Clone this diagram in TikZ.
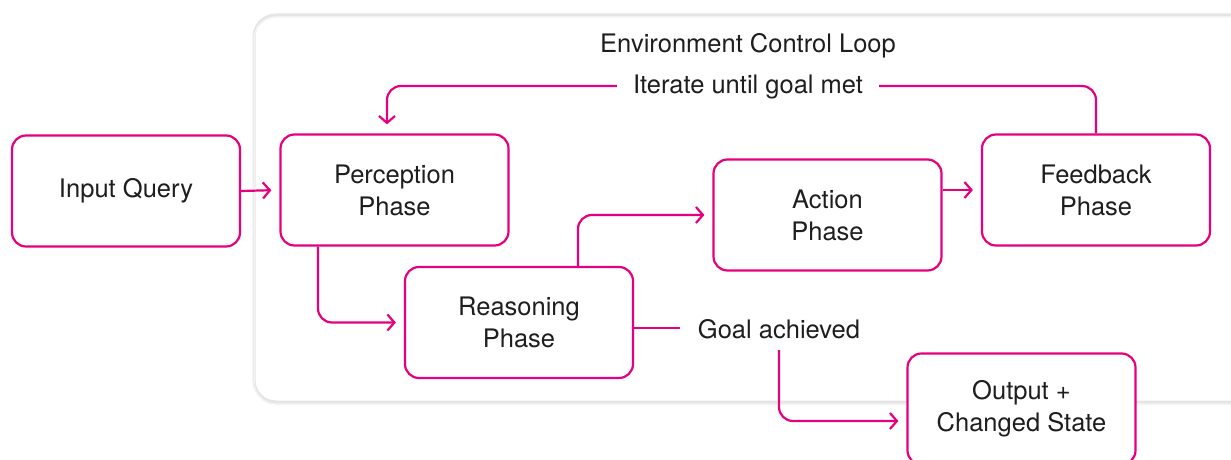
\documentclass[tikz,border=0pt]{standalone}
\usepackage{fontspec}
\setmainfont{TeX Gyre Heros}
\usetikzlibrary{arrows.meta}
\definecolor{mag}{RGB}{230,0,126}
\definecolor{txt}{RGB}{30,30,30}
\begin{document}
\begin{tikzpicture}[x=1pt,y=-1pt,
  box/.style={draw=mag,line width=2.2pt,rounded corners=14pt,fill=white,minimum width=228pt,minimum height=111pt,align=center,font=\fontsize{25.5}{32}\selectfont,text=txt,inner sep=0pt},
  lbl/.style={font=\fontsize{25.5}{32}\selectfont,text=txt,inner sep=0pt},
  conn/.style={draw=mag,line width=2.2pt,rounded corners=14pt},
  arr/.style={conn,-{Straight Barb[length=7pt,width=16pt,line width=2.2pt]},shorten >=8pt}]
\useasboundingbox (0,0) rectangle (1231,460);
% environment container
\draw[rounded corners=22pt,draw=black!10,line width=3pt,fill=white] (254,15) rectangle (1260,402);
\draw[rounded corners=22pt,draw=black!5,line width=1.5pt] (254,17) rectangle (1260,404);
\node[lbl] (title) at (748,46) {Environment Control Loop};
% nodes
\node[box] (inp) at (126,191) {Input Query};
\node[box] (per) at (394.5,190) {Perception\\Phase};
\node[box] (rea) at (519,322.5) {Reasoning\\Phase};
\node[box] (act) at (827.5,215) {Action\\Phase};
\node[box] (fee) at (1096,190) {Feedback\\Phase};
\node[box] (out) at (1021.5,409) {Output +\\Changed State};
\node[lbl] (iter) at (748,87) {Iterate until goal met};
\node[lbl] (goal) at (779,329) {Goal achieved};
% connectors
\draw[arr] (inp.east) -- (per.west);
\draw[arr] (per.south -| 318,0) |- (rea.west);
\draw[arr] (rea.north -| 578,0) |- (act.west);
\draw[arr] (act.east |- fee.west) -- (fee.west);
\draw[conn] (fee.north) |- ([xshift=16pt,yshift=1pt]iter.east);
\draw[arr,shorten >=9pt] ([xshift=-16pt,yshift=1pt]iter.west) -| (per.north -| 387,0);
\draw[conn] (rea.east |- 0,328) -- ([xshift=-18pt]goal.west |- 0,328);
\coordinate (gs) at (779,350);
\draw[arr] (gs) |- (out.west |- 0,421);
\end{tikzpicture}
\end{document}
